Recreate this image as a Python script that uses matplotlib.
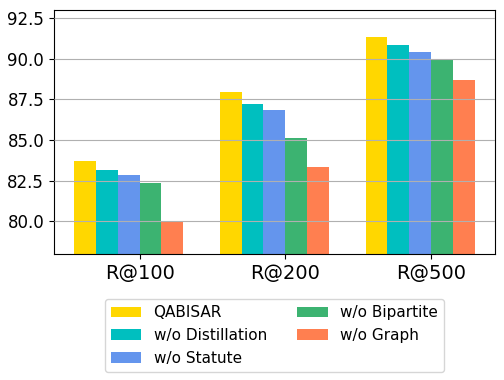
import matplotlib
matplotlib.use("Agg")
import matplotlib.pyplot as plt
import numpy as np

categories = ["R@100", "R@200", "R@500"]
series_names = ["QABISAR", "w/o Distillation", "w/o Statute", "w/o Bipartite", "w/o Graph"]
qabisar = [83.7, 87.95, 91.35]
wo_distillation = [83.15, 87.2, 90.85]
wo_statute = [82.85, 86.85, 90.4]
wo_bipartite = [82.35, 85.1, 89.9]
wo_graph = [80.0, 83.35, 88.7]
colors = ["#FFD700", "#00BFBF", "#6495ED", "#3CB371", "#FF7F50"]

values = [qabisar, wo_distillation, wo_statute, wo_bipartite, wo_graph]

fig = plt.figure(figsize=(5.04, 3.8), dpi=100)
ax = fig.add_axes([0.107, 0.332, 0.875, 0.642])
x = np.arange(len(categories))
w = 0.15
for i, (name, vals, c) in enumerate(zip(series_names, values, colors)):
    ax.bar(x + i * w, vals, w, label=name, color=c)
ax.set_xticks(x + 2.5 * w)
ax.set_xticklabels(categories, fontsize=14)
ax.tick_params(axis='y', labelsize=12)
ax.set_ylim(78, 93)
ax.set_axisbelow(False)
ax.yaxis.grid(True, color="#b0b0b0")
ax.legend(loc="upper center", bbox_to_anchor=(0.5, -0.155), ncol=2, fontsize=11)
fig.savefig("out.png", dpi=100)
